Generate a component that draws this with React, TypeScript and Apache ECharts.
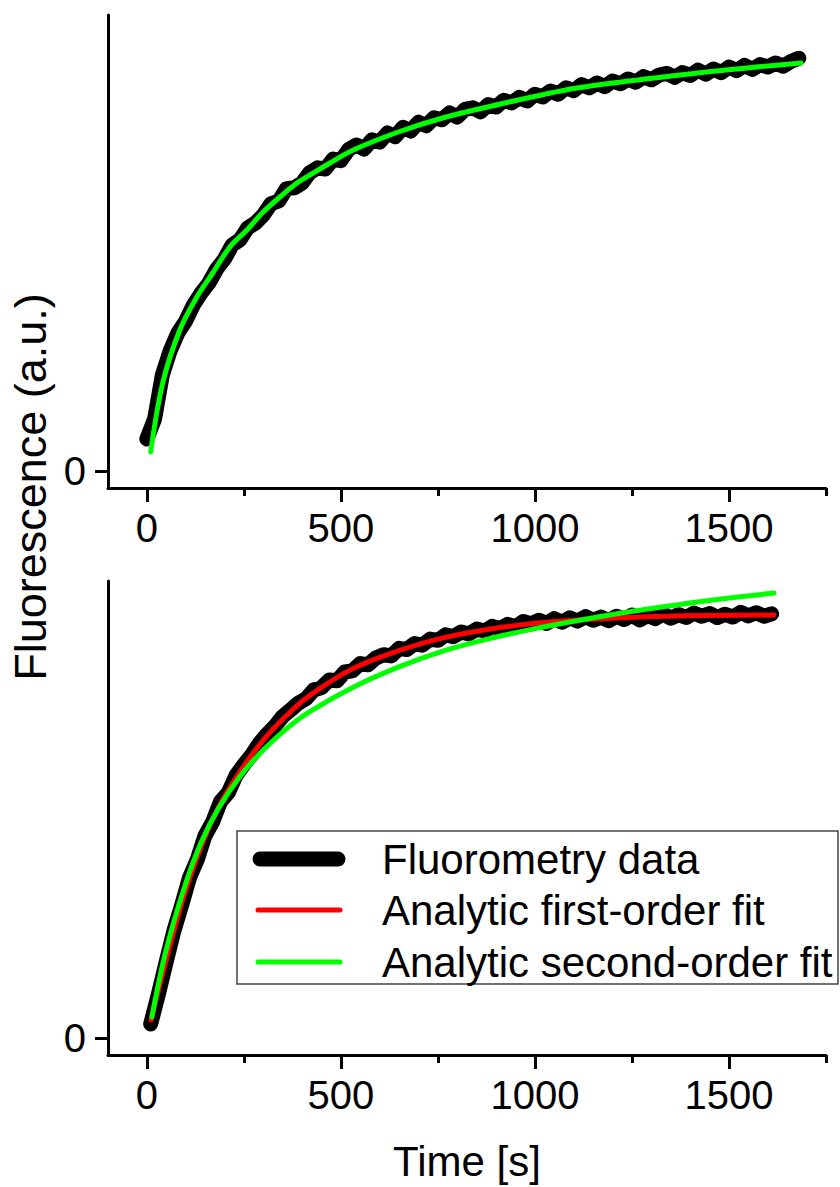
import React, { useEffect, useRef } from "react";
import * as echarts from "echarts";

const FONT = "'Liberation Sans', Arial, Helvetica, sans-serif";

// ---------- data ----------
const xMajorTicks = [0, 500, 1000, 1500];
const xMinorTicks = [250, 750, 1250, 1750];
const yTicks = [0];

// Top panel: fluorometry data
const topTime = [
  0, 20, 40, 60, 80, 100, 120, 140, 160, 180, 200, 220, 240, 260, 280, 300, 320, 340, 360, 380,
  400, 420, 440, 460, 480, 500, 520, 540, 560, 580, 600, 620, 640, 660, 680, 700, 720, 740, 760, 780,
  800, 820, 840, 860, 880, 900, 920, 940, 960, 980, 1000, 1020, 1040, 1060, 1080, 1100, 1120, 1140, 1160, 1180,
  1200, 1220, 1240, 1260, 1280, 1300, 1320, 1340, 1360, 1380, 1400, 1420, 1440, 1460, 1480, 1500, 1520, 1540, 1560, 1580,
  1600, 1620, 1640, 1660, 1680,
];
const topData = [
  8, 13, 24, 30, 34.5, 37.5, 41.5, 44.5, 47, 50.5, 53, 56.5, 57.8, 60.8, 62, 64, 66.8, 67.5, 70.6, 70.8,
  72, 74.6, 75.8, 75.5, 78, 77.6, 80.4, 81.5, 80.5, 82.8, 82.2, 84.5, 83.6, 85.9, 85, 87.2, 86.3, 88.3, 87.8, 89.5,
  88.5, 90.4, 90.8, 89.8, 91.6, 91, 92.7, 92, 93.4, 92.5, 94.2, 93.5, 95, 94.2, 95.8, 95.1, 96.6, 95.8, 97, 96.1,
  97.5, 96.8, 98, 97.2, 98.6, 97.8, 99, 99.4, 98.4, 99.6, 98.9, 100.2, 99.2, 100.5, 99.6, 101, 100.1, 101.4, 100.4, 101.6,
  101, 102, 101.2, 102.4, 103.2,
];
// Top panel: analytic second-order fit
const topFitTime = [10, 41, 85, 129, 170, 214, 258, 300, 343, 387, 429, 472, 532, 648, 762, 878, 1108, 1340, 1454, 1570, 1686];
const topFitValue = [4.75, 22, 35.25, 43.5, 49.5, 56, 60.25, 64.75, 68.5, 72, 74.5, 77, 80.25, 84.75, 88.25, 91, 95.75, 98.6, 99.9, 101, 102];

// Bottom panel: fluorometry data
const bottomTime = [
  10, 30, 50, 70, 90, 110, 130, 150, 170, 190, 210, 230, 250, 270, 290, 310, 330, 350, 370, 390,
  410, 430, 450, 470, 490, 510, 530, 550, 570, 590, 610, 630, 650, 670, 690, 710, 730, 750, 770, 790,
  810, 830, 850, 870, 890, 910, 930, 950, 970, 990, 1010, 1030, 1050, 1070, 1090, 1110, 1130, 1150, 1170, 1190,
  1210, 1230, 1250, 1270, 1290, 1310, 1330, 1350, 1370, 1390, 1410, 1430, 1450, 1470, 1490, 1510, 1530, 1550, 1570, 1590,
  1610,
];
const bottomData = [
  3.5, 11, 19, 26.8, 33.2, 40, 44.5, 50.5, 54, 59, 61.2, 65.5, 68.2, 70.6, 73.5, 75.8, 77.8, 80.2, 81.8, 83.5,
  84.6, 86.8, 87.4, 89.3, 89.1, 91.3, 91.6, 93.4, 93.1, 94.8, 95.6, 95.3, 97.2, 96.9, 98.4, 98, 99.5, 99.2, 100.6, 100.1,
  101.3, 100.8, 102, 101.5, 102.7, 102.1, 103.2, 102.6, 103.9, 103.3, 104.2, 103.4, 104.6, 103.7, 104.8, 104, 105.1, 104.2, 105, 104.1,
  105.2, 104.4, 105.5, 104.3, 105.4, 104.6, 105.8, 104.7, 105.6, 104.9, 106, 105.2, 105.9, 104.9, 105.7, 105, 106.2, 105.3, 106.1, 105.2,
  105.8,
];
// Bottom panel: analytic first-order fit
const firstFitTime = [11, 48, 95, 140, 186, 244, 302, 358, 417, 532, 648, 763, 878, 994, 1108, 1340, 1616];
const firstFitValue = [4.5, 18.75, 35.25, 47.75, 57.75, 67, 74.5, 80.25, 85.25, 92.2, 96.6, 99.8, 101.9, 103.4, 104.3, 105.2, 105.5];
// Bottom panel: analytic second-order fit
const secondFitTime = [13, 48, 95, 140, 186, 244, 302, 358, 417, 532, 648, 763, 878, 994, 1108, 1224, 1340, 1454, 1616];
const secondFitValue = [5.25, 21.25, 37, 48.75, 57.5, 65.75, 72, 77, 81.25, 87.5, 92.5, 96.5, 99.5, 102, 104.1, 106, 107.7, 109.2, 111];

const legendLabels = ["Fluorometry data", "Analytic first-order fit", "Analytic second-order fit"];
const yAxisTitle = "Fluorescence (a.u.)";
const xAxisTitle = "Time [s]";

// ---------- helpers ----------
const pairs = (xs: number[], ys: number[]) => xs.map((x, i) => [x, ys[i]]);

const X_MIN = -100;
const X_MAX = 1750;
const Y_MIN = -4.25;
const Y_MAX = 114;

const axisLineStyle = { color: "#000", width: 3 };
const plain = (v: number) => String(v);

const majorX = (gridIndex: number, withName: boolean) => ({
  type: "value",
  gridIndex,
  position: "bottom",
  min: X_MIN,
  max: X_MAX,
  name: withName ? xAxisTitle : "",
  nameLocation: "middle",
  nameGap: 85,
  nameTextStyle: { fontSize: 42, fontFamily: FONT, color: "#000" },
  axisLine: { show: true, onZero: false, lineStyle: axisLineStyle },
  axisTick: { show: true, customValues: xMajorTicks, length: 14, lineStyle: axisLineStyle },
  axisLabel: {
    show: true,
    customValues: xMajorTicks,
    formatter: plain,
    margin: 20,
    fontSize: 40,
    fontFamily: FONT,
    color: "#000",
  },
  splitLine: { show: false },
});

const minorX = (gridIndex: number) => ({
  type: "value",
  gridIndex,
  position: "bottom",
  min: X_MIN,
  max: X_MAX,
  axisLine: { show: false, onZero: false },
  axisTick: { show: true, customValues: xMinorTicks, length: 8, lineStyle: axisLineStyle },
  axisLabel: { show: false },
  splitLine: { show: false },
});

const yAx = (gridIndex: number) => ({
  type: "value",
  gridIndex,
  min: Y_MIN,
  max: Y_MAX,
  axisLine: { show: true, onZero: false, lineStyle: axisLineStyle },
  axisTick: { show: true, customValues: yTicks, length: 13, lineStyle: axisLineStyle },
  axisLabel: {
    show: true,
    customValues: yTicks,
    formatter: plain,
    margin: 22,
    fontSize: 40,
    fontFamily: FONT,
    color: "#000",
  },
  splitLine: { show: false },
});

const dataLine = (name: string, xIdx: number, yIdx: number, d: number[][]) => ({
  name,
  type: "line",
  xAxisIndex: xIdx,
  yAxisIndex: yIdx,
  data: d,
  showSymbol: false,
  symbol: "none",
  lineStyle: { color: "#000", width: 15, cap: "round", join: "round" },
  itemStyle: { color: "#000" },
  z: 2,
});

const fitLine = (name: string, color: string, xIdx: number, yIdx: number, d: number[][], z: number) => ({
  name,
  type: "line",
  xAxisIndex: xIdx,
  yAxisIndex: yIdx,
  data: d,
  showSymbol: false,
  symbol: "none",
  smooth: 0.35,
  lineStyle: { color, width: 5, cap: "round", join: "round" },
  itemStyle: { color },
  z,
});

const GREEN = "#00ff00";
const RED = "#ff0000";

const option: any = {
  animation: false,
  backgroundColor: "#ffffff",
  textStyle: { fontFamily: FONT },
  grid: [
    { left: 108, right: 14, top: 15, height: 473 },
    { left: 108, right: 14, top: 581, height: 474 },
  ],
  xAxis: [majorX(0, false), minorX(0), majorX(1, true), minorX(1)],
  yAxis: [yAx(0), yAx(1)],
  series: [
    dataLine(legendLabels[0], 0, 0, pairs(topTime, topData)),
    fitLine(legendLabels[2], GREEN, 0, 0, pairs(topFitTime, topFitValue), 4),
    dataLine(legendLabels[0], 2, 1, pairs(bottomTime, bottomData)),
    fitLine(legendLabels[1], RED, 2, 1, pairs(firstFitTime, firstFitValue), 3),
    fitLine(legendLabels[2], GREEN, 2, 1, pairs(secondFitTime, secondFitValue), 4),
  ],
  graphic: [
    {
      type: "text",
      x: 30,
      y: 487,
      rotation: Math.PI / 2,
      style: {
        text: yAxisTitle,
        fontSize: 45,
        fontFamily: FONT,
        fill: "#000",
        align: "center",
        verticalAlign: "middle",
        textAlign: "center",
        textVerticalAlign: "middle",
      },
    },
    {
      type: "group",
      z: 100,
      children: [
        {
          type: "rect",
          shape: { x: 237, y: 831, width: 601, height: 153 },
          style: { fill: "#fff", stroke: "#444", lineWidth: 1.5 },
        },
        {
          type: "line",
          shape: { x1: 260, y1: 859, x2: 338, y2: 859 },
          style: { stroke: "#000", lineWidth: 15, lineCap: "round" },
        },
        {
          type: "line",
          shape: { x1: 258, y1: 910, x2: 340, y2: 910 },
          style: { stroke: RED, lineWidth: 5, lineCap: "round" },
        },
        {
          type: "line",
          shape: { x1: 258, y1: 962, x2: 340, y2: 962 },
          style: { stroke: GREEN, lineWidth: 5, lineCap: "round" },
        },
        ...legendLabels.map((t, i) => ({
          type: "text",
          x: 382,
          y: [859, 910, 962][i],
          style: {
            text: t,
            fontSize: 42,
            fontFamily: FONT,
            fill: "#000",
            align: "left",
            verticalAlign: "middle",
            textAlign: "left",
            textVerticalAlign: "middle",
          },
        })),
      ],
    },
  ],
};

export default function App() {
  const ref = useRef<HTMLDivElement>(null);
  useEffect(() => {
    if (!ref.current) return;
    const chart = echarts.init(ref.current, null, { renderer: "svg" });
    chart.setOption(option);
    return () => chart.dispose();
  }, []);
  return (
    <div
      ref={ref}
      style={{ width: 840, height: 1187, position: "absolute", left: 0, top: 0, background: "#fff" }}
    />
  );
}
